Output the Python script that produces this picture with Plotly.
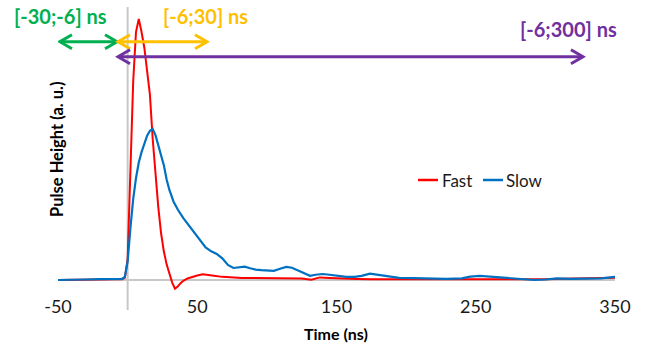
import plotly.graph_objects as go

# ---------------- data ----------------
fast_time = [-50, -40, -30, -20, -10, -4, -2, 0, 2, 4, 6, 8, 10, 12, 14, 16, 18, 20, 22, 24,
             26, 28, 30, 32, 34, 36, 38, 40, 43, 46, 50, 54, 58, 62, 68, 75, 82, 90, 100, 110,
             120, 125, 132, 138, 145, 155, 165, 175, 190, 205, 220, 240, 260, 280, 300, 320, 335, 350]
fast_height = [0.0, 0.0, 0.002, 0.002, 0.003, 0.003, 0.008, 0.08, 0.42, 0.76, 0.95, 1.0, 0.95, 0.89,
               0.80, 0.71, 0.54, 0.40, 0.28, 0.18, 0.11, 0.06, 0.02, -0.01, -0.033, -0.025, -0.012,
               -0.003, 0.006, 0.012, 0.017, 0.022, 0.02, 0.016, 0.012, 0.009, 0.008, 0.008, 0.008,
               0.007, 0.006, 0.006, 0.001, 0.01, 0.008, 0.005, 0.004, 0.003, 0.003, 0.004, 0.003,
               0.002, 0.003, 0.002, 0.003, 0.006, 0.008, 0.009]

slow_time = [-50, -40, -30, -20, -10, -4, -2, 0, 2, 4, 6, 8, 10, 12, 14, 16, 18, 20, 22, 24, 26, 28,
             30, 33, 36, 40, 44, 48, 52, 56, 60, 64, 68, 72, 76, 80, 84, 88, 92, 96, 100, 105, 110,
             114, 118, 122, 126, 131, 135, 140, 145, 150, 157, 163, 168, 174, 181, 188, 195, 205,
             215, 229, 240, 246, 253, 260, 268, 277, 285, 292, 300, 308, 318, 330, 340, 350]
slow_height = [0.0, 0.0, 0.002, 0.003, 0.003, 0.004, 0.012, 0.07, 0.2, 0.31, 0.39, 0.45, 0.49, 0.525,
               0.553, 0.572, 0.578, 0.555, 0.515, 0.48, 0.44, 0.385, 0.345, 0.3, 0.27, 0.237, 0.21,
               0.18, 0.153, 0.125, 0.11, 0.1, 0.083, 0.058, 0.046, 0.048, 0.051, 0.045, 0.04, 0.038,
               0.037, 0.035, 0.044, 0.05, 0.047, 0.038, 0.028, 0.016, 0.02, 0.023, 0.02, 0.016,
               0.012, 0.012, 0.016, 0.024, 0.019, 0.012, 0.008, 0.007, 0.005, 0.004, 0.006, 0.013,
               0.016, 0.013, 0.009, 0.005, 0.002, 0.0, 0.002, 0.006, 0.004, 0.005, 0.006, 0.012]

series_names = ["Fast", "Slow"]
x_tick_vals = [-50, 50, 150, 250, 350]
x_tick_text = ["-50", "50", "150", "250", "350"]

window_labels = ["[-30;-6] ns", "[-6;30] ns", "[-6;300] ns"]

# ---------------- styles / layout ----------------
RED = "#FF0000"
BLUE = "#0070C0"
GREEN = "#00B050"
GOLD = "#FFC000"
PURPLE = "#7030A0"
GRAY = "#C8C8C8"
FONT = "Lato"

W, H = 657, 343
PLOT_TOP, PLOT_BOTTOM = 7, 297          # page pixels
PLOT_LEFT, PLOT_RIGHT = 58, 615         # page pixels
ML, MR = PLOT_LEFT, W - PLOT_RIGHT
MT, MB = PLOT_TOP, H - PLOT_BOTTOM
PH = PLOT_BOTTOM - PLOT_TOP
PW = PLOT_RIGHT - PLOT_LEFT
BASE = 280      # pixel row of zero
UNIT = 261      # pixels per unit of pulse height


def py(p):  # pixel row -> paper y
    return (PLOT_BOTTOM - p) / PH


def px(p):  # pixel column -> paper x
    return (p - PLOT_LEFT) / PW


fig = go.Figure()
fig.add_trace(go.Scatter(x=fast_time, y=fast_height, mode="lines", name=series_names[0],
                         line=dict(color=RED, width=2), showlegend=False))
fig.add_trace(go.Scatter(x=slow_time, y=slow_height, mode="lines", name=series_names[1],
                         line=dict(color=BLUE, width=2.2), showlegend=False))

shapes = []
# vertical axis line at t = 0 (extends a bit below plot)
shapes.append(dict(type="line", xref="x", yref="paper", x0=0, x1=0, y0=py(310), y1=1,
                   line=dict(color=GRAY, width=2), layer="below"))


def chevron(xa, ya, color, direction):
    d = -1 if direction == "right" else 1
    return dict(type="path", xref="x", yref="y", xsizemode="pixel", ysizemode="pixel",
                xanchor=xa, yanchor=ya,
                path=f"M {d*12},7 L 0,0 L {d*12},-7",
                line=dict(color=color, width=3))


def arrow(x0, x1, y, color, both=True):
    out = [dict(type="line", xref="x", yref="y", x0=x0, x1=x1, y0=y, y1=y,
                line=dict(color=color, width=3))]
    out.append(chevron(x1, y, color, "right"))
    if both:
        out.append(chevron(x0, y, color, "left"))
    return out


yA = (BASE - 41.7) / UNIT
yB = (BASE - 56.7) / UNIT
shapes += arrow(-48.6, -7.6, yA, GREEN)
shapes += arrow(-6.9, 57, yA, GOLD)
shapes += arrow(-6.9, 327, yB, PURPLE)

# manual legend line samples
shapes.append(dict(type="line", xref="paper", yref="paper", x0=px(418), x1=px(438),
                   y0=py(180), y1=py(180), line=dict(color=RED, width=2.5)))
shapes.append(dict(type="line", xref="paper", yref="paper", x0=px(483), x1=px(503),
                   y0=py(180), y1=py(180), line=dict(color=BLUE, width=2.5)))

annotations = [
    dict(text=window_labels[0], xref="paper", yref="paper", x=px(60), y=py(16),
         showarrow=False, xanchor="center", yanchor="middle",
         font=dict(family=FONT, size=20, color=GREEN, weight="bold")),
    dict(text=window_labels[1], xref="paper", yref="paper", x=px(205), y=py(16),
         showarrow=False, xanchor="center", yanchor="middle",
         font=dict(family=FONT, size=20, color=GOLD, weight="bold")),
    dict(text=window_labels[2], xref="paper", yref="paper", x=px(568), y=py(29),
         showarrow=False, xanchor="center", yanchor="middle",
         font=dict(family=FONT, size=20, color=PURPLE, weight="bold")),
    dict(text=series_names[0], xref="paper", yref="paper", x=px(440), y=py(180),
         showarrow=False, xanchor="left", yanchor="middle",
         font=dict(family=FONT, size=17, color="#1a1a1a")),
    dict(text=series_names[1], xref="paper", yref="paper", x=px(504), y=py(180),
         showarrow=False, xanchor="left", yanchor="middle",
         font=dict(family=FONT, size=17, color="#1a1a1a")),
    dict(text="Time (ns)", xref="paper", yref="paper", x=px(336), y=py(333),
         showarrow=False, xanchor="center", yanchor="middle",
         font=dict(family=FONT, size=16, color="#000000", weight="bold")),
    dict(text="Pulse Height (a. u.)", xref="paper", yref="paper", x=px(57), y=py(150),
         showarrow=False, xanchor="center", yanchor="middle", textangle=-90,
         font=dict(family=FONT, size=16.5, color="#000000", weight="bold")),
]

ymax = (BASE - PLOT_TOP) / UNIT
ymin = -(PLOT_BOTTOM - BASE) / UNIT

fig.update_layout(
    width=W, height=H,
    margin=dict(l=ML, r=MR, t=MT, b=MB, pad=0),
    paper_bgcolor="white", plot_bgcolor="white",
    showlegend=False,
    hovermode=False,
    shapes=shapes, annotations=annotations,
    xaxis=dict(range=[-50, 350], tickvals=x_tick_vals, ticktext=x_tick_text,
               showgrid=False, zeroline=False, showline=False, ticks="",
               ticklabelstandoff=-3,
               tickfont=dict(family=FONT, size=18, color="#1a1a1a")),
    yaxis=dict(range=[ymin, ymax], showticklabels=False, showgrid=False,
               zeroline=True, zerolinecolor=GRAY, zerolinewidth=2, showline=False, ticks=""),
)

# remove the browser's default 8px page margin so the figure fills the window exactly
fig.write_html("out.html", config={"displayModeBar": False},
               post_script="document.body.style.margin='0';document.body.style.overflow='hidden';")
